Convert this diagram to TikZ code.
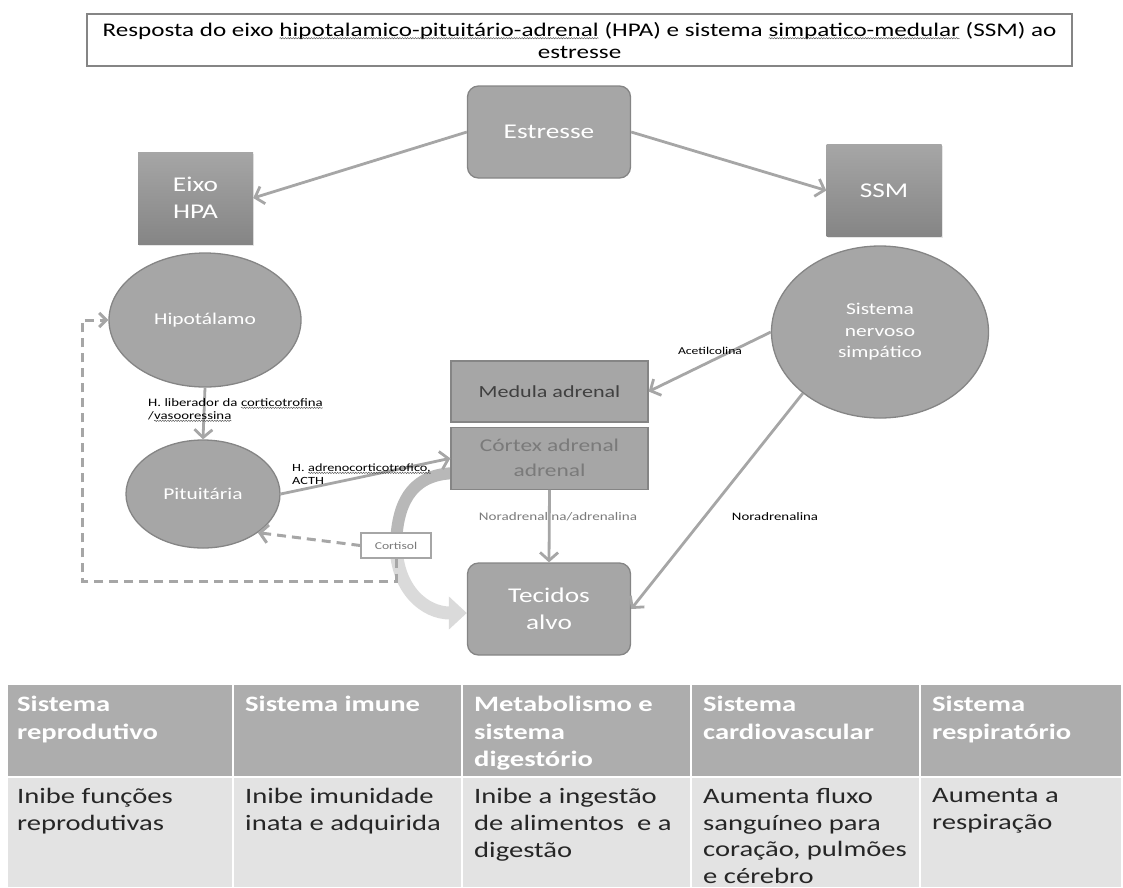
\documentclass[tikz,border=0pt]{standalone}
\usepackage{fontspec}
\setmainfont{Carlito}[FakeStretch=1.3]
\usetikzlibrary{arrows.meta,positioning,shapes.geometric,backgrounds,shadows,decorations.pathmorphing}
\definecolor{boxgray}{HTML}{A6A6A6}
\definecolor{edgegray}{HTML}{858585}
\definecolor{headgray}{HTML}{ADADAD}
\definecolor{rowgray}{HTML}{E3E3E3}
\definecolor{arcgray}{HTML}{B8B8B8}
\definecolor{lightarc}{HTML}{DADADA}
\definecolor{labgray}{HTML}{7A7A7A}
\newcommand\squig[1]{\tikz[baseline=(w.base)]{\node[draw=none,fill=none,inner sep=0pt,outer sep=0pt,minimum width=0pt,minimum height=0pt] (w) {#1};
    \draw[black!70,line width=0.4pt,solid,decorate,decoration={snake,amplitude=0.7pt,segment length=2.6pt}] ([yshift=-1.6pt]w.base west) -- ([yshift=-1.6pt]w.base east);}}

\begin{document}
\begin{tikzpicture}[x=1pt,y=-1pt,
    big/.style={font=\fontsize{21}{27}\selectfont,text=white,align=center},
    rbox/.style={big,draw=edgegray,line width=1.3pt,fill=boxgray,rounded corners=11pt,minimum width=163pt,minimum height=92pt},
    gbox/.style={big,top color=boxgray,bottom color=edgegray,minimum width=115pt,minimum height=92pt,drop shadow={opacity=0.2,shadow xshift=1pt,shadow yshift=-1.5pt}},
    organ/.style={ellipse,draw=edgegray,line width=1.3pt,fill=boxgray,text=white,align=center,inner sep=0pt,font=\fontsize{16.5}{21.5}\selectfont},
    gland/.style={draw=edgegray,line width=1.3pt,fill=boxgray,minimum width=197pt,align=center},
    lab/.style={font=\fontsize{11}{13}\selectfont,align=left,inner sep=1pt},
    arr/.style={draw=boxgray,line width=2.8pt,-{Straight Barb[length=8pt,width=18pt]}},
    fb/.style={draw=boxgray,line width=3pt,dash pattern=on 9pt off 6pt},
    head/.style={anchor=north west,align=left,text=white,font=\bfseries\fontsize{22}{27.5}\selectfont,inner sep=0pt},
    cell/.style={anchor=north west,align=left,text=black!85,font=\fontsize{22}{26.8}\selectfont,inner sep=0pt}
]
\useasboundingbox (0,0) rectangle (1123,887);

\node[draw=edgegray,line width=1.5pt,minimum width=985pt,minimum height=52pt,align=center,font=\fontsize{19.3}{22}\selectfont] (title) at (579.5,40)
    {\strut Resposta do eixo \squig{hipotalamico-pituitário-adrenal} (HPA) e sistema \squig{simpatico-medular} (SSM) ao\\estresse};

\node[rbox] (estresse) at (549,132) {Estresse};
\node[gbox] (hpa) at (195.5,198) {Eixo\\HPA};
\node[gbox] (ssm) at (884,190.5) {SSM};
\node[organ,minimum width=192pt,minimum height=134pt] (hipo) at (205,320) {Hipotálamo};
\node[organ,minimum width=154pt,minimum height=108pt] (pit) at (203,494) {Pituitária};
\node[organ,minimum width=217pt,minimum height=172pt] (sns) at (880,332) {Sistema\\nervoso\\simpático};
\node[gland,minimum height=61pt,text=black!75,font=\fontsize{17}{22}\selectfont] (medula) at (549.5,391.5) {Medula adrenal};
\node[gland,minimum height=62pt,text=labgray,font=\fontsize{18}{25}\selectfont,below=4pt of medula] (cortex) {Córtex adrenal\\adrenal};
\node[rbox] (tecidos) at (549,609) {Tecidos\\alvo};
\node[draw=boxgray,line width=1.2pt,fill=white,minimum width=70pt,minimum height=25pt,text=labgray,font=\fontsize{10.5}{13}\selectfont] (cortisol) at (396,545.5) {Cortisol};
\coordinate (fbk) at (82,581);

\begin{pgfonlayer}{background}
\draw[arcgray,line width=12pt] ([yshift=-15pt]cortex.west) .. controls (410,476) and (397,505) .. (cortisol.center);
\draw[lightarc,line width=13pt,-{Triangle[length=18pt,width=32pt]}] (cortisol.center) .. controls (397,590) and (425,613) .. ([yshift=-4pt]tecidos.west);
\end{pgfonlayer}

\draw[arr] (estresse.west) -- (hpa.east);
\draw[arr] (estresse.east) -- (ssm.west);
\draw[arr] (hipo.south) -- (pit.north);
\draw[arr] (pit.east) -- (cortex.west);
\draw[arr] (sns.west) -- (medula.east);
\node[lab,text=labgray,font=\fontsize{11.6}{13}\selectfont] (noradr) at (558,517) {Noradrenalina/adrenalina};
\draw[arr] (cortex.south) -- (tecidos.north);
\draw[arr] (sns.south west) -- (tecidos.east);
\draw[fb,-{Straight Barb[length=8pt,width=18pt]}] (cortisol.west) -- (pit.south east);
\draw[fb,-{Straight Barb[length=7pt,width=14pt]}] (cortisol.south) |- (fbk) |- (hipo.west);

\node[lab,anchor=west,font=\fontsize{11.4}{13}\selectfont] (crh) at (147,410) {H. liberador da \squig{corticotrofina}\\/\squig{vasooressina}};
\node[lab,anchor=west] (acth) at (291,474) {H. \squig{adrenocorticotrofico,}\\ ACTH};
\node[lab,font=\fontsize{10.5}{13}\selectfont] (acet) at (710,351) {Acetilcolina};
\node[lab,font=\fontsize{11.4}{13}\selectfont] (nor) at (775,517) {Noradrenalina};

\fill[headgray] (8,685) rectangle (1121,777);
\fill[rowgray] (8,777) rectangle (1121,887);
\foreach \x in {233,462,691,920}
    \draw[white,line width=1.5pt] (\x,685) -- (\x,887);
\draw[white,line width=2pt] (8,777) -- (1121,777);

\node[head] (h1) at (17,696) {Sistema\\reprodutivo};
\node[head] (h2) at (245,696) {Sistema imune};
\node[head] (h3) at (474,696) {Metabolismo e\\sistema\\digestório};
\node[head] (h4) at (703,696) {Sistema\\cardiovascular};
\node[head] (h5) at (932,696) {Sistema\\respiratório};
\node[cell] (c1) at (17,788) {Inibe funções\\reprodutivas};
\node[cell] (c2) at (245,788) {Inibe imunidade\\inata e adquirida};
\node[cell] (c3) at (474,788) {Inibe a ingestão\\de alimentos\ \ e a\\digestão};
\node[cell] (c4) at (703,788) {Aumenta fluxo\\sanguíneo para\\coração, pulmões\\e cérebro};
\node[cell] (c5) at (932,788) {Aumenta a\\respiração};
\end{tikzpicture}
\end{document}
